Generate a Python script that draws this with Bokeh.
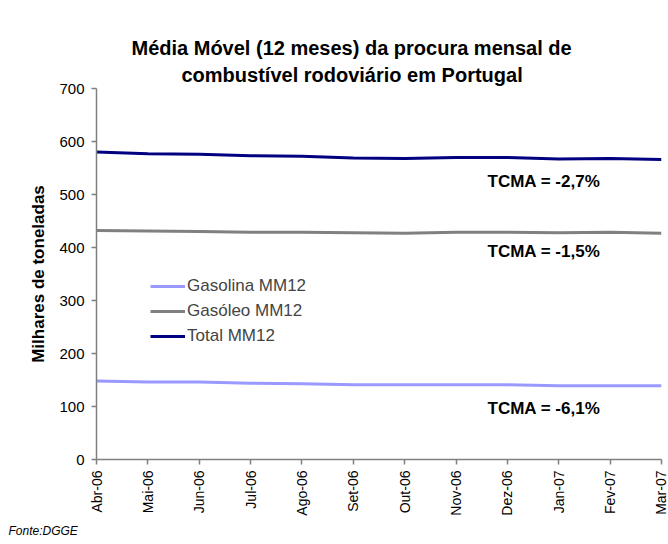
import math
from bokeh.plotting import figure
from bokeh.models import Range1d, FixedTicker, Label, Legend, LegendItem, Title
from bokeh.embed import file_html
from bokeh.resources import INLINE

# ---- data ----
months = ["Abr-06", "Mai-06", "Jun-06", "Jul-06", "Ago-06", "Set-06",
          "Out-06", "Nov-06", "Dez-06", "Jan-07", "Fev-07", "Mar-07"]
gasolina = [148, 146, 146, 144, 143, 141, 141, 141, 141, 139, 139, 139]
gasoleo = [432, 431, 430, 429, 429, 428, 427, 429, 429, 428, 429, 427]
total = [580, 577, 576, 573, 572, 569, 568, 570, 570, 567, 568, 566]
series_names = ["Gasolina MM12", "Gasóleo MM12", "Total MM12"]
tcma_texts = ["TCMA = -2,7%", "TCMA = -1,5%", "TCMA = -6,1%"]
y_ticks = [0, 100, 200, 300, 400, 500, 600, 700]
title_lines = ["Média Móvel (12 meses) da procura mensal de",
               "combustível rodoviário em Portugal"]

FONT = "Liberation Sans"
x = list(range(len(months)))

p = figure(width=668, height=544, output_backend="svg", toolbar_location=None,
           x_range=Range1d(0, len(months) - 1), y_range=Range1d(0, 700),
           min_border_left=96, min_border_right=7, min_border_top=88,
           min_border_bottom=85)
p.outline_line_color = None
p.xgrid.visible = False
p.ygrid.visible = False

colors = ["#9999FF", "#808080", "#000080"]
renderers = []
for ys, c in zip([gasolina, gasoleo, total], colors):
    r = p.line(x, ys, line_color=c, line_width=3)
    renderers.append(r)

# axes
for ax in (p.xaxis[0], p.yaxis[0]):
    ax.axis_line_color = "#808080"
    ax.axis_line_width = 1.5
    ax.major_tick_line_color = "#808080"
    ax.major_tick_line_width = 1.5
    ax.major_tick_in = 0
    ax.major_tick_out = 5
    ax.minor_tick_line_color = None
    ax.major_label_text_font = FONT
    ax.major_label_text_color = "black"

p.xaxis.ticker = FixedTicker(ticks=x)
p.xaxis.major_label_overrides = {i: m for i, m in zip(x, months)}
p.xaxis.major_label_orientation = math.pi / 2
p.xaxis.major_label_standoff = 6
p.xaxis.major_label_text_font_size = "14px"

p.yaxis.ticker = FixedTicker(ticks=y_ticks)
p.yaxis.major_label_standoff = 7
p.yaxis.major_label_text_font_size = "15px"
p.yaxis.axis_label = "Milhares de toneladas"
p.yaxis.axis_label_text_font = FONT
p.yaxis.axis_label_text_font_size = "17px"
p.yaxis.axis_label_text_font_style = "bold"
p.yaxis.axis_label_text_color = "black"
p.yaxis.axis_label_standoff = 8

# legend
legend = Legend(items=[LegendItem(label=n, renderers=[r]) for n, r in zip(series_names, renderers)],
                location=(54, 113), padding=0, margin=0, spacing=4,
                glyph_width=35, label_standoff=2, label_height=21,
                label_text_font=FONT, label_text_font_size="17px",
                border_line_color=None, background_fill_alpha=0)
p.add_layout(legend)

# TCMA annotations
for txt, ypos in zip(tcma_texts, [525, 393, 97]):
    p.add_layout(Label(x=9.81, y=ypos, text=txt, text_align="right", text_baseline="middle",
                       text_font=FONT, text_font_size="17px", text_font_style="bold",
                       text_color="black"))

# title: two lines, each centred near x=352 using left offsets
TSIZE = 20
line_em = [22.008, 17.06]
offsets = [int(256 - w * TSIZE / 2) for w in line_em]
standoffs = [0, 6]
for txt, off, so in reversed(list(zip(title_lines, offsets, standoffs))):
    p.add_layout(Title(text=txt, align="left", offset=off, standoff=so,
                       text_font=FONT, text_font_size=f"{TSIZE}px",
                       text_font_style="bold", text_color="black"), "above")

# source
p.add_layout(Title(text="Fonte:DGGE", align="left", offset=-88, standoff=6,
                   text_font=FONT, text_font_size="12px", text_font_style="italic",
                   text_color="black"), "below")

open("out.html", "w").write(file_html(p, INLINE))
